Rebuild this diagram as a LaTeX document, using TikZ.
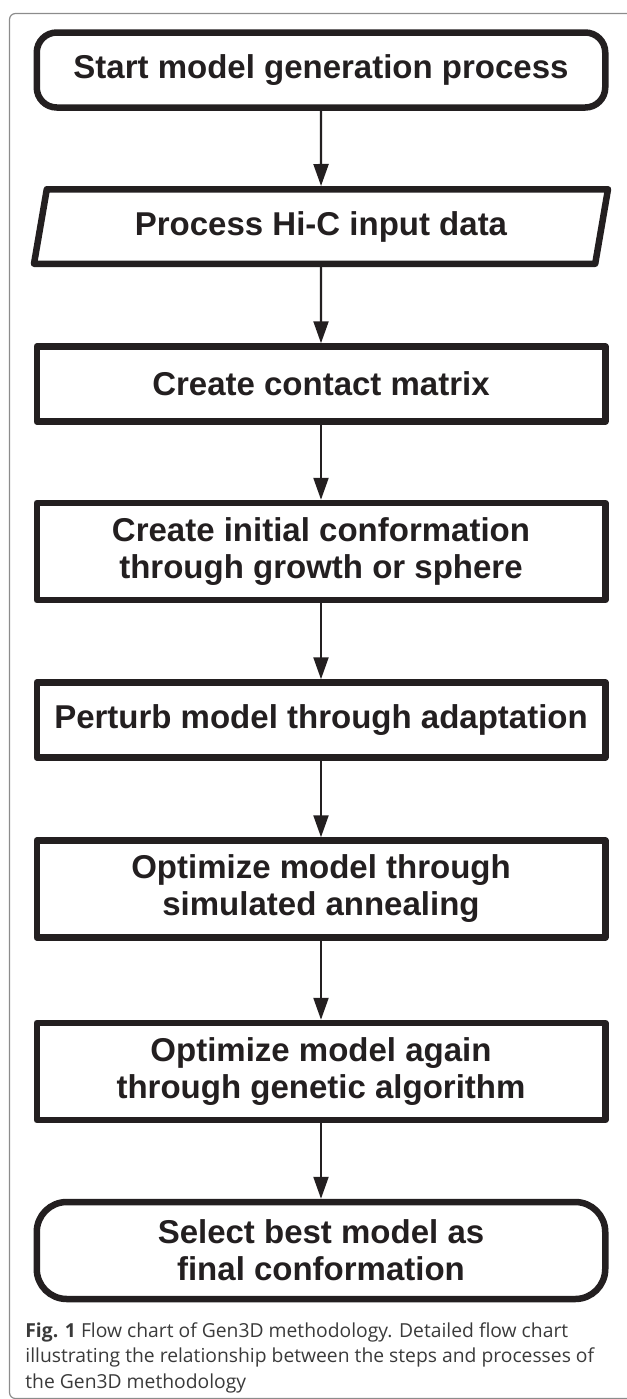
\documentclass[tikz,border=0pt]{standalone}
\usepackage{fontspec}
\setmainfont{Liberation Sans}
\newfontfamily\capfont{Open Sans}
\usepackage{tikz}
\usetikzlibrary{shapes.geometric, arrows.meta}
\usepackage{xcolor}

\definecolor{ink}{HTML}{231F20}
\definecolor{framegray}{HTML}{8C8C8C}
\definecolor{capgray}{HTML}{3A3A3A}

\tikzset{
    stepbox/.style={draw=ink, line width=3.25pt, line join=round, text=ink,
        minimum width=284.25pt, minimum height=37.5pt, inner sep=0pt,
        align=center, font=\fontsize{16.5}{18.5}\selectfont\bfseries},
    tallbox/.style={stepbox, minimum height=48.5pt},
    endbox/.style={stepbox, rounded corners=10pt},
    iobox/.style={stepbox, trapezium, trapezium stretches body=true,
        trapezium left angle=67.4, trapezium right angle=112.6,
        minimum width=287pt, minimum height=37.25pt},
    flow/.style={ink, line width=1.1pt, -{Triangle[length=11pt, width=7.5pt]}}
}

\begin{document}
\begin{tikzpicture}[x=0.5pt, y=-0.5pt]

    \useasboundingbox (0,0) rectangle (627,1399);

    % Frame
    \draw[framegray, line width=0.6pt, rounded corners=3pt]
        (700,1398.5) -- (9.5,1398.5) -- (9.5,13.5) -- (700,13.5);

    % Steps
    \node[endbox] (start) at (321,70) {Start model generation process};
    \node[iobox] (input) at (321,226.5) {Process Hi-C input data};
    \node[stepbox] (matrix) at (321,384) {Create contact matrix};
    \node[tallbox] (init) at (321,551.5) {Create initial conformation\\through growth or sphere};
    \node[stepbox] (perturb) at (321,720) {Perturb model through adaptation};
    \node[tallbox] (anneal) at (321,889) {Optimize model through\\simulated annealing};
    \node[tallbox] (genetic) at (321,1071.5) {Optimize model again\\through genetic algorithm};
    \node[tallbox, rounded corners=15pt] (final) at (321,1250.5) {Select best model as\\final conformation};

    % Arrows
    \foreach \a/\b in {start/input, input/matrix, matrix/init, init/perturb,
                       perturb/anneal, anneal/genetic, genetic/final} {
        \draw[flow] (\a.south) -- (\b.north);
    }

    % Caption
    \node[anchor=north west, align=left, inner sep=0pt, text=capgray,
          font=\capfont\fontsize{9.65}{12.75}\selectfont] (caption) at (25,1322)
        {\textbf{Fig. 1} Flow chart of Gen3D methodology. Detailed flow chart\\
         illustrating the relationship between the steps and processes of\\
         the Gen3D methodology};

\end{tikzpicture}
\end{document}
